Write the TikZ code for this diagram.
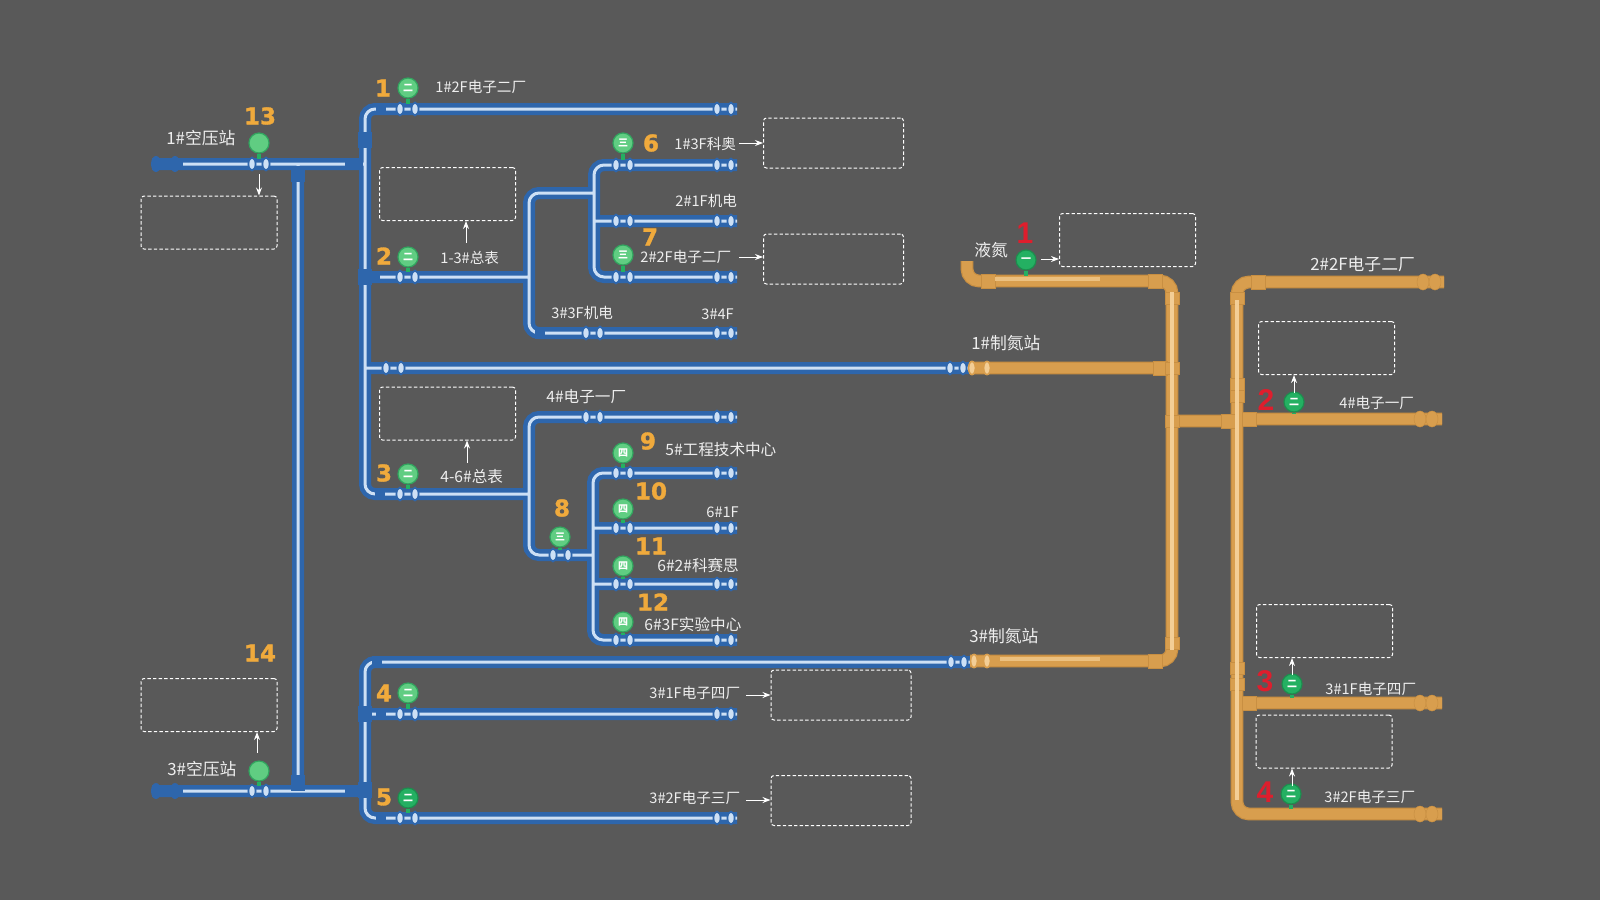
\documentclass[tikz,border=0pt]{standalone}
\usepackage{fontspec}
\usepackage{xcolor}
\usetikzlibrary{positioning, arrows.meta, shapes.geometric}
\setmainfont{Noto Sans CJK SC}
\newfontfamily\numfont[BoldFeatures={FakeBold=1.4}]{DejaVu Sans}
\newfontfamily\redfont{Liberation Sans}
\definecolor{bgcol}{RGB}{89, 89, 89}
\definecolor{pipeblue}{RGB}{46, 102, 172}
\definecolor{pipecore}{RGB}{205, 224, 245}
\definecolor{pipeorange}{RGB}{216, 158, 78}
\definecolor{orangeedge}{RGB}{200, 143, 66}
\definecolor{orangecore}{RGB}{243, 206, 150}
\definecolor{gaugelight}{RGB}{96, 205, 130}
\definecolor{gaugeedge}{RGB}{50, 165, 95}
\definecolor{gaugedeep}{RGB}{36, 176, 98}
\definecolor{numorange}{RGB}{240, 170, 60}
\definecolor{numred}{RGB}{222, 30, 45}
\definecolor{labelgrey}{RGB}{238, 238, 238}

\begin{document}
\begin{tikzpicture}[
    x=0.5pt, y=-0.5pt,
    bluepipe/.style={draw=pipeblue, line width=6pt, rounded corners=5pt,
      postaction={draw=pipecore, line width=1.5pt}},
    orangepipe/.style={draw=orangeedge, line width=6.4pt, rounded corners=6pt,
      postaction={draw=pipeorange, line width=5.2pt}},
    orangehigh/.style={draw=orangecore, line width=1.6pt, rounded corners=5pt},
    hcollar/.style={rectangle, fill=pipeblue, minimum width=5pt, minimum height=6.2pt, inner sep=0pt},
    vcollar/.style={rectangle, fill=pipeblue, minimum width=6.6pt, minimum height=8pt, inner sep=0pt},
    ohcollar/.style={rectangle, fill=pipeorange, draw=orangeedge, line width=.25pt, minimum width=7pt, minimum height=6.8pt, inner sep=0pt},
    ovcollar/.style={rectangle, fill=pipeorange, draw=orangeedge, line width=.25pt, minimum width=6.8pt, minimum height=6pt, inner sep=0pt},
    valve/.style={ellipse, fill=pipecore, draw=pipeblue, line width=.9pt, minimum width=3.6pt, minimum height=6.4pt, inner sep=0pt},
    ovalve/.style={ellipse, fill=orangecore, draw=pipeorange, line width=.8pt, minimum width=3.4pt, minimum height=6.6pt, inner sep=0pt},
    bcap/.style={ellipse, fill=pipeblue, minimum width=5pt, minimum height=8pt, inner sep=0pt},
    ocap/.style={ellipse, fill=pipeorange, draw=orangeedge, line width=.25pt, minimum width=6pt, minimum height=8pt, inner sep=0pt},
    gauge/.style={circle, fill=gaugelight, draw=gaugeedge, line width=.6pt, minimum size=10pt, inner sep=0pt,
      text=white, font=\fontsize{5}{5}\selectfont\bfseries},
    gaugedk/.style={gauge, fill=gaugedeep, draw=gaugedeep!80!black},
    stem/.style={draw=gaugedeep, line width=2pt},
    num/.style={text=numorange, font=\numfont\fontsize{11.5}{12}\selectfont\bfseries, inner sep=0pt},
    rednum/.style={text=numred, font=\redfont\fontsize{15}{15}\selectfont\bfseries, inner sep=0pt},
    lbl/.style={text=labelgrey, font=\fontsize{7.3}{8}\selectfont, anchor=west, inner sep=0pt},
    midlbl/.style={lbl, font=\fontsize{7.8}{8}\selectfont},
    biglbl/.style={lbl, font=\fontsize{8.4}{9}\selectfont},
    notebox/.style={rectangle, draw=white, line width=.5pt, dash pattern=on 1.7pt off 1.1pt,
      rounded corners=1.5pt, minimum width=68pt, minimum height=26.5pt, inner sep=0pt},
    wbox/.style={notebox, minimum width=70pt, minimum height=25pt},
    arrow/.style={-{Stealth[length=4pt,width=3pt]}, draw=white, line width=.5pt}
  ]
    \fill[bgcol] (0,0) rectangle (1600,900);

    % blue air lines
    \draw[bluepipe]
      (152,164) -- (365,164)
      (737,109) -- (365,109) -- (365,494) -- (529,494)
      (365,277) -- (529,277)
      (365,368) -- (970,368)
      (298,164) -- (298,791)
      (152,791) -- (365,791)
      (970,662) -- (365,662) -- (365,818) -- (737,818)
      (365,714) -- (737,714)
      (737,165) -- (594,165) -- (594,277) -- (737,277)
      (594,221) -- (737,221)
      (594,193) -- (529,193) -- (529,333) -- (737,333)
      (737,417) -- (529,417) -- (529,555) -- (593,555)
      (737,473) -- (593,473) -- (593,640) -- (737,640)
      (593,528) -- (737,528)
      (593,584) -- (737,584);
    \foreach \x/\y in {350/164, 350/791, 358/164, 358/791, 158/164, 164/164, 172/164, 178/164, 158/791, 164/791, 172/791, 178/791,
        375/277, 381/109, 380/494, 381/714, 381/818, 377/662, 540/333}
      \node[hcollar] (hc\x\y) at (\x,\y) {};
    \foreach \x/\y in {298/174, 298/783, 365/277, 365/790, 365/140, 365/714}
      \node[vcollar] (vc\x\y) at (\x,\y) {};
    \foreach \x/\y in {156/164, 175/164, 156/791, 175/791}
      \node[bcap] (bc\x\y) at (\x,\y) {};

    % orange nitrogen lines
    \draw[orangepipe]
      (967,261) -- (967,281) -- (1172,281) -- (1172,661) -- (970,661)
      (970,368) -- (1172,368)
      (1172,421) -- (1237,421)
      (1444,282) -- (1237,282) -- (1237,814) -- (1442,814)
      (1237,419) -- (1442,419)
      (1237,703) -- (1442,703);
    \foreach \x/\y in {1155/281, 1155/661, 1160/368, 1228/421, 1249/419, 1249/703, 988/281, 1258/282}
      \node[ohcollar] (oh\x\y) at (\x,\y) {};
    \foreach \x/\y in {1172/298, 1172/643, 1172/368, 1172/421, 1237/298, 1237/384, 1237/396, 1237/668, 1237/684}
      \node[ovcollar] (ov\x\y) at (\x,\y) {};
    \draw[orangehigh] (1172,292) -- (1172,650);
    \draw[orangehigh] (1237,800) -- (1237,300);
    \draw[orangehigh, draw=orangecore!70!pipeorange] (995,279) -- (1100,279);
    \draw[orangehigh, draw=orangecore!70!pipeorange] (1000,659) -- (1100,659);
    \foreach \x/\y in {1423/282, 1435/282, 1420/419, 1432/419, 1420/703, 1432/703, 1420/814, 1432/814}
      \node[ocap] (oc\x\y) at (\x,\y) {};

    % valves
    \foreach \y in {109, 277, 494, 714, 818}
      \foreach \x in {400, 415}
        \node[valve] (va\x\y) at (\x,\y) {};
    \foreach \y in {109, 165, 221, 277, 333, 417, 473, 528, 584, 640, 714, 818}
      \foreach \x in {717, 731}
        \node[valve] (ve\x\y) at (\x,\y) {};
    \foreach \y in {165, 221, 277, 473, 528, 584, 640}
      \foreach \x in {616, 630}
        \node[valve] (vb\x\y) at (\x,\y) {};
    \foreach \x/\y in {586/333, 600/333, 586/417, 600/417, 553/555, 568/555, 252/164, 266/164, 252/791, 266/791,
        386/368, 401/368, 950/368, 963/368, 951/662, 964/662}
      \node[valve] (vc\x\y) at (\x,\y) {};
    \foreach \x/\y in {972/368, 987/368, 974/661, 987/661}
      \node[ovalve] (vo\x\y) at (\x,\y) {};

    % gauges, with the stem down to the pipe
    \foreach \n/\x/\y/\py/\t in {1/408/88/109/二, 2/408/257/277/二, 3/408/474/494/二, 4/408/693/714/二,
        6/623/143/165/三, 7/623/255/277/三, 8/560/537/555/三,
        9/623/453/473/四, 10/623/509/528/四, 11/623/566/584/四, 12/623/622/640/四,
        13/259/143/164/{}, 14/259/771/791/{}} {
      \coordinate (s\n) at (\x,\py-5);
      \node[gauge] (g\n) at (\x,\y) {\t};
      \draw[stem] (g\n) -- (s\n);
    }
    \foreach \n/\x/\y/\py/\t in {5/408/798/818/二, 21/1026/260/281/一, 22/1294/402/419/二, 23/1292/684/703/二, 24/1291/794/814/二} {
      \coordinate (s\n) at (\x,\py-5);
      \node[gaugedk] (g\n) at (\x,\y) {\t};
      \draw[stem] (g\n) -- (s\n);
    }

    % numbers
    \foreach \t/\x/\y in {1/383/88, 2/384/256, 3/384/473, 4/384/693, 5/384/797, 6/651/143, 7/650/237, 8/562/508,
        9/648/441, 10/651/491, 11/651/546, 12/653/602, 13/260/116, 14/260/653}
      \node[num] (n\t) at (\x,\y) {\t};
    \foreach \t/\x/\y in {1/1025/233, 2/1266/400, 3/1265/681, 4/1265/792}
      \node[rednum] (r\t) at (\x,\y) {\t};

    % labels
    \node[lbl] (l1) at (435,87) {1\#2F电子二厂};
    \node[lbl] (l2) at (440,258) {1-3\#总表};
    \node[midlbl] (l3) at (440,477) {4-6\#总表};
    \node[lbl] (l4) at (674,144) {1\#3F科奥};
    \node[lbl] (l5) at (675,201) {2\#1F机电};
    \node[lbl] (l6) at (640,257) {2\#2F电子二厂};
    \node[lbl] (l7) at (551,313) {3\#3F机电};
    \node[lbl] (l8) at (701,314) {3\#4F};
    \node[midlbl] (l9) at (546,397) {4\#电子一厂};
    \node[midlbl] (l10) at (665,450) {5\#工程技术中心};
    \node[lbl] (l11) at (706,512) {6\#1F};
    \node[midlbl] (l12) at (657,565) {6\#2\#科赛思};
    \node[midlbl] (l13) at (644,624) {6\#3F实验中心};
    \node[lbl] (l14) at (649,693) {3\#1F电子四厂};
    \node[lbl] (l15) at (649,798) {3\#2F电子三厂};
    \node[biglbl] (l16) at (166,138) {1\#空压站};
    \node[biglbl] (l17) at (167,769) {3\#空压站};
    \node[biglbl] (l18) at (974,250) {液氮};
    \node[biglbl] (l19) at (971,343) {1\#制氮站};
    \node[biglbl] (l20) at (969,636) {3\#制氮站};
    \node[biglbl] (l21) at (1310,264) {2\#2F电子二厂};
    \node[lbl] (l22) at (1339,403) {4\#电子一厂};
    \node[lbl] (l23) at (1325,689) {3\#1F电子四厂};
    \node[lbl] (l24) at (1324,797) {3\#2F电子三厂};

    % dashed boxes
    \node[notebox] (b13) at (209,222.5) {};
    \node[notebox] (b14) at (209,705) {};
    \node[notebox] (bt1) at (447.5,194) {};
    \node[notebox] (bt2) at (447.5,413.5) {};
    \node[wbox] (b6) at (833.5,143) {};
    \node[wbox] (b7) at (833.5,259) {};
    \node[wbox] (b4) at (841,695) {};
    \node[wbox] (b5) at (841,800.5) {};
    \node[notebox] (br1) at (1127.5,240) {};
    \node[notebox] (br2) at (1326.5,348) {};
    \node[notebox] (br3) at (1324.5,631) {};
    \node[notebox] (br4) at (1324,741.5) {};

    % arrows into the boxes
    \coordinate (a13) at (259,174);
    \coordinate (a14) at (257,753);
    \coordinate (at1) at (466,243);
    \coordinate (at2) at (467,463);
    \coordinate (a6) at (739,143);
    \coordinate (a7) at (739,257);
    \coordinate (a4) at (746,695);
    \coordinate (a5) at (746,800);
    \coordinate (ar1) at (1041,259);
    \coordinate (ar2) at (1294,393);
    \coordinate (ar3) at (1292,675);
    \coordinate (ar4) at (1292,786);
    \draw[arrow] (a13) -- (a13 |- b13.north);
    \draw[arrow] (a14) -- (a14 |- b14.south);
    \draw[arrow] (at1) -- (at1 |- bt1.south);
    \draw[arrow] (at2) -- (at2 |- bt2.south);
    \draw[arrow] (a6) -- (a6 -| b6.west);
    \draw[arrow] (a7) -- (a7 -| b7.west);
    \draw[arrow] (a4) -- (a4 -| b4.west);
    \draw[arrow] (a5) -- (a5 -| b5.west);
    \draw[arrow] (ar1) -- (ar1 -| br1.west);
    \draw[arrow] (ar2) -- (ar2 |- br2.south);
    \draw[arrow] (ar3) -- (ar3 |- br3.south);
    \draw[arrow] (ar4) -- (ar4 |- br4.south);
  \end{tikzpicture}
\end{document}
